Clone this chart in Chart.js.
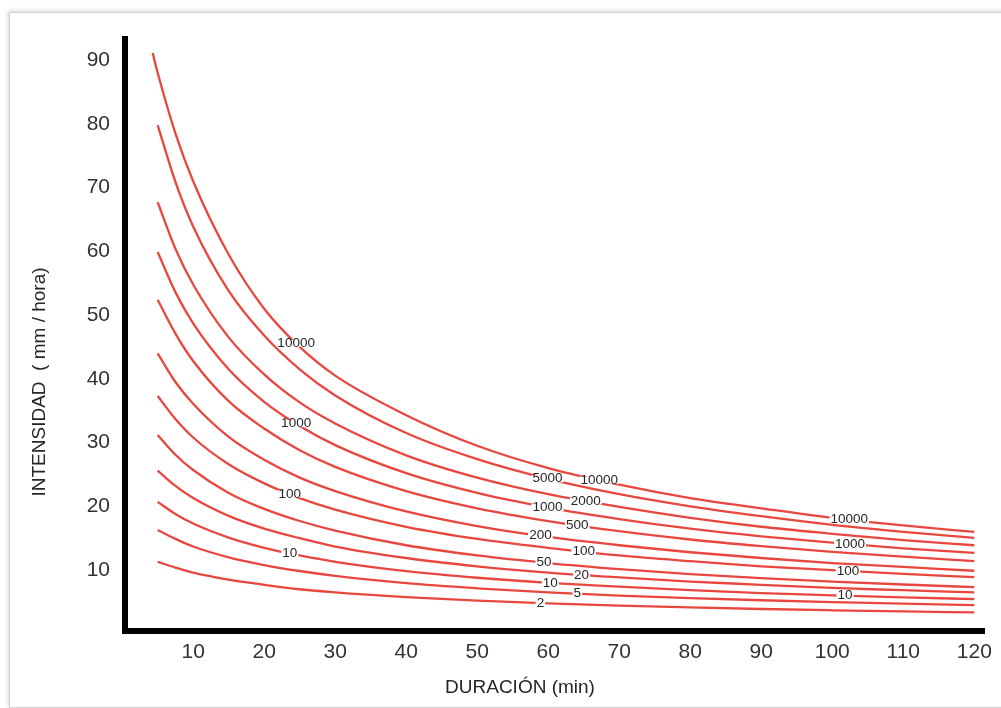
<!DOCTYPE html>
<html>
<head>
<meta charset="utf-8">
<script src="https://cdn.jsdelivr.net/npm/chart.js@4.4.1/dist/chart.umd.min.js"></script>
<style>
  html, body { margin: 0; padding: 0; background: #fff; }
  body { width: 1001px; height: 708px; position: relative; overflow: hidden; }
  .frame {
    position: absolute; left: 9px; top: 12px; width: 1000px; height: 694px;
    border: 1px solid #d2d2d2; box-shadow: -1px -1px 4px rgba(0,0,0,0.18);
  }
  .wrap { position: absolute; left: 0; top: 0; width: 1001px; height: 708px; }
</style>
</head>
<body>
<div class="frame"></div>
<div class="wrap"><canvas id="idf" width="1001" height="708"></canvas></div>
<script>
// duration (min) and intensity (mm/hora)
const durations = [4.3, 5, 7.5, 10, 15, 20, 25, 30, 40, 50, 60, 70, 80, 90, 100, 110, 120];

const periods = ['10000', '5000', '2000', '1000', '500', '200', '100', '50', '20', '10', '5', '2'];

const i10000 = [91.1, 88, 78.5, 71, 59.5, 51, 45, 40.5, 34.3, 29.5, 26, 23.4, 21.3, 19.7, 18.2, 17.0, 16.0];
const i5000  = [null, 79.8, 70.9, 63.9, 53.8, 46.8, 41.5, 37.4, 31.5, 27.4, 24.3, 21.9, 20.0, 18.45, 17.1, 16.0, 15.05];
const i2000  = [null, 67.7, 60.4, 54.8, 46.5, 40.7, 36.3, 33.0, 28.0, 24.5, 21.9, 19.9, 18.2, 16.8, 15.7, 14.7, 13.9];
const i1000  = [null, 59.9, 53.6, 48.7, 41.5, 36.4, 32.6, 29.6, 25.2, 22.1, 19.8, 18.0, 16.5, 15.3, 14.3, 13.4, 12.7];
const i500   = [null, 52.4, 47.1, 42.8, 36.5, 32.2, 28.8, 26.2, 22.4, 19.7, 17.7, 16.1, 14.8, 13.75, 12.85, 12.1, 11.4];
const i200   = [null, 44.0, 39.5, 36.1, 30.9, 27.3, 24.5, 22.4, 19.2, 16.9, 15.2, 13.9, 12.8, 11.9, 11.1, 10.5, 9.9];
const i100   = [null, 37.3, 33.7, 30.8, 26.6, 23.6, 21.3, 19.5, 16.8, 14.9, 13.5, 12.3, 11.4, 10.6, 10.0, 9.4, 8.9];
const i50    = [null, 31.2, 28.1, 25.7, 22.1, 19.6, 17.7, 16.2, 13.9, 12.3, 11.1, 10.15, 9.36, 8.73, 8.2, 7.74, 7.33];
const i20    = [null, 25.6, 23.2, 21.3, 18.5, 16.5, 15.0, 13.7, 11.9, 10.6, 9.6, 8.85, 8.2, 7.7, 7.2, 6.85, 6.5];
const i10    = [null, 20.7, 18.8, 17.3, 15.1, 13.5, 12.3, 11.3, 9.84, 8.8, 8.0, 7.4, 6.85, 6.4, 6.05, 5.73, 5.45];
const i5     = [null, 16.3, 14.9, 13.7, 12.0, 10.8, 9.86, 9.1, 7.96, 7.15, 6.5, 6.0, 5.6, 5.27, 4.98, 4.73, 4.5];
const i2     = [null, 11.3, 10.4, 9.6, 8.5, 7.7, 7.0, 6.5, 5.76, 5.2, 4.77, 4.43, 4.14, 3.9, 3.7, 3.52, 3.37];

// labels written on the curves: which curve, at which duration
const labelPeriods = ['10000', '1000', '100', '10',
                      '5000', '10000', '1000', '2000', '200', '500', '50', '100', '10', '20', '2', '5',
                      '10000', '1000', '100', '10'];
const labelMinutes = [24.5, 24.5, 23.6, 23.6,
                      59.9, 67.2, 59.9, 65.3, 58.9, 64.1, 59.4, 65.0, 60.3, 64.7, 58.9, 64.1,
                      102.4, 102.5, 102.2, 101.8];

const xTitle = 'DURACIÓN (min)';
const yTitle = 'INTENSIDAD  ( mm / hora)';

const series = [i10000, i5000, i2000, i1000, i500, i200, i100, i50, i20, i10, i5, i2];
const tickFont = {family: '"Liberation Sans Narrow", "Arial Narrow", "Liberation Sans", Arial', size: 21};

function toPoints(vals){
    let pts = [];
    vals.forEach((v, k) => { if(v !== null) pts.push({x: durations[k], y: v}); });
    return pts;
}

const curveLabels = {
    id: 'curveLabels',
    afterDatasetsDraw(chart){
        const ctx = chart.ctx;
        const xs = chart.scales.x;
        ctx.save();
        ctx.font = '13.5px "Liberation Sans", Arial';
        ctx.textAlign = 'center';
        ctx.textBaseline = 'middle';
        labelPeriods.forEach((p, k) => {
            const meta = chart.getDatasetMeta(periods.indexOf(p));
            const pts = meta.data;
            const px = xs.getPixelForValue(labelMinutes[k]);
            let py = null;
            for(let j = 0; j < pts.length - 1; j++){
                if(pts[j].x <= px && pts[j+1].x >= px){
                    const f = (px - pts[j].x) / (pts[j+1].x - pts[j].x);
                    py = pts[j].y + f * (pts[j+1].y - pts[j].y);
                    break;
                }
            }
            if(py === null) return;
            const w = ctx.measureText(p).width;
            ctx.fillStyle = '#fff';
            ctx.fillRect(px - w/2 - 1, py - 3.5, w + 2, 7);
            ctx.fillStyle = '#262626';
            ctx.fillText(p, px, py);
        });
        ctx.restore();
    },
    afterDraw(chart){
        const ctx = chart.ctx;
        const a = chart.chartArea;
        ctx.save();
        ctx.fillStyle = '#262626';
        ctx.font = '19px "Liberation Sans Narrow", "Arial Narrow", "Liberation Sans", Arial';
        ctx.textAlign = 'center';
        ctx.textBaseline = 'middle';
        ctx.fillText(xTitle, a.left + 395, a.bottom + 57);
        ctx.translate(a.left - 85, (a.top + a.bottom) / 2 + 47);
        ctx.rotate(-Math.PI / 2);
        ctx.fillText(yTitle, 0, 0);
        ctx.restore();
    }
};

const idfChart = new Chart(
    document.getElementById('idf').getContext('2d'),
    {
        type: 'line',
        data: {
            datasets: series.map((s, k) => ({
                label: periods[k],
                data: toPoints(s),
                borderColor: '#e8473f',
                borderWidth: 2.3,
                pointRadius: 0,
                fill: false,
                cubicInterpolationMode: 'monotone'
            }))
        },
        options: {
            responsive: false,
            animation: false,
            layout: {padding: {top: 39, right: 15, left: 0, bottom: 0}},
            plugins: {legend: {display: false}, tooltip: {enabled: false}},
            scales: {
                x: {
                    type: 'linear',
                    min: 0.4,
                    max: 121.5,
                    grid: {display: false, drawTicks: false},
                    border: {display: true, color: '#000', width: 6},
                    ticks: {stepSize: 10, includeBounds: false, padding: 9, color: '#333', font: tickFont},
                    afterFit: (s) => { s.height = 77; }
                },
                y: {
                    type: 'linear',
                    min: 0.45,
                    max: 93.3,
                    grid: {display: false, drawTicks: false},
                    border: {display: true, color: '#000', width: 6},
                    ticks: {stepSize: 10, includeBounds: false, padding: 15, color: '#333', font: tickFont},
                    afterFit: (s) => { s.width = 125; }
                }
            }
        },
        plugins: [curveLabels]
    }
)
</script>
</body>
</html>
